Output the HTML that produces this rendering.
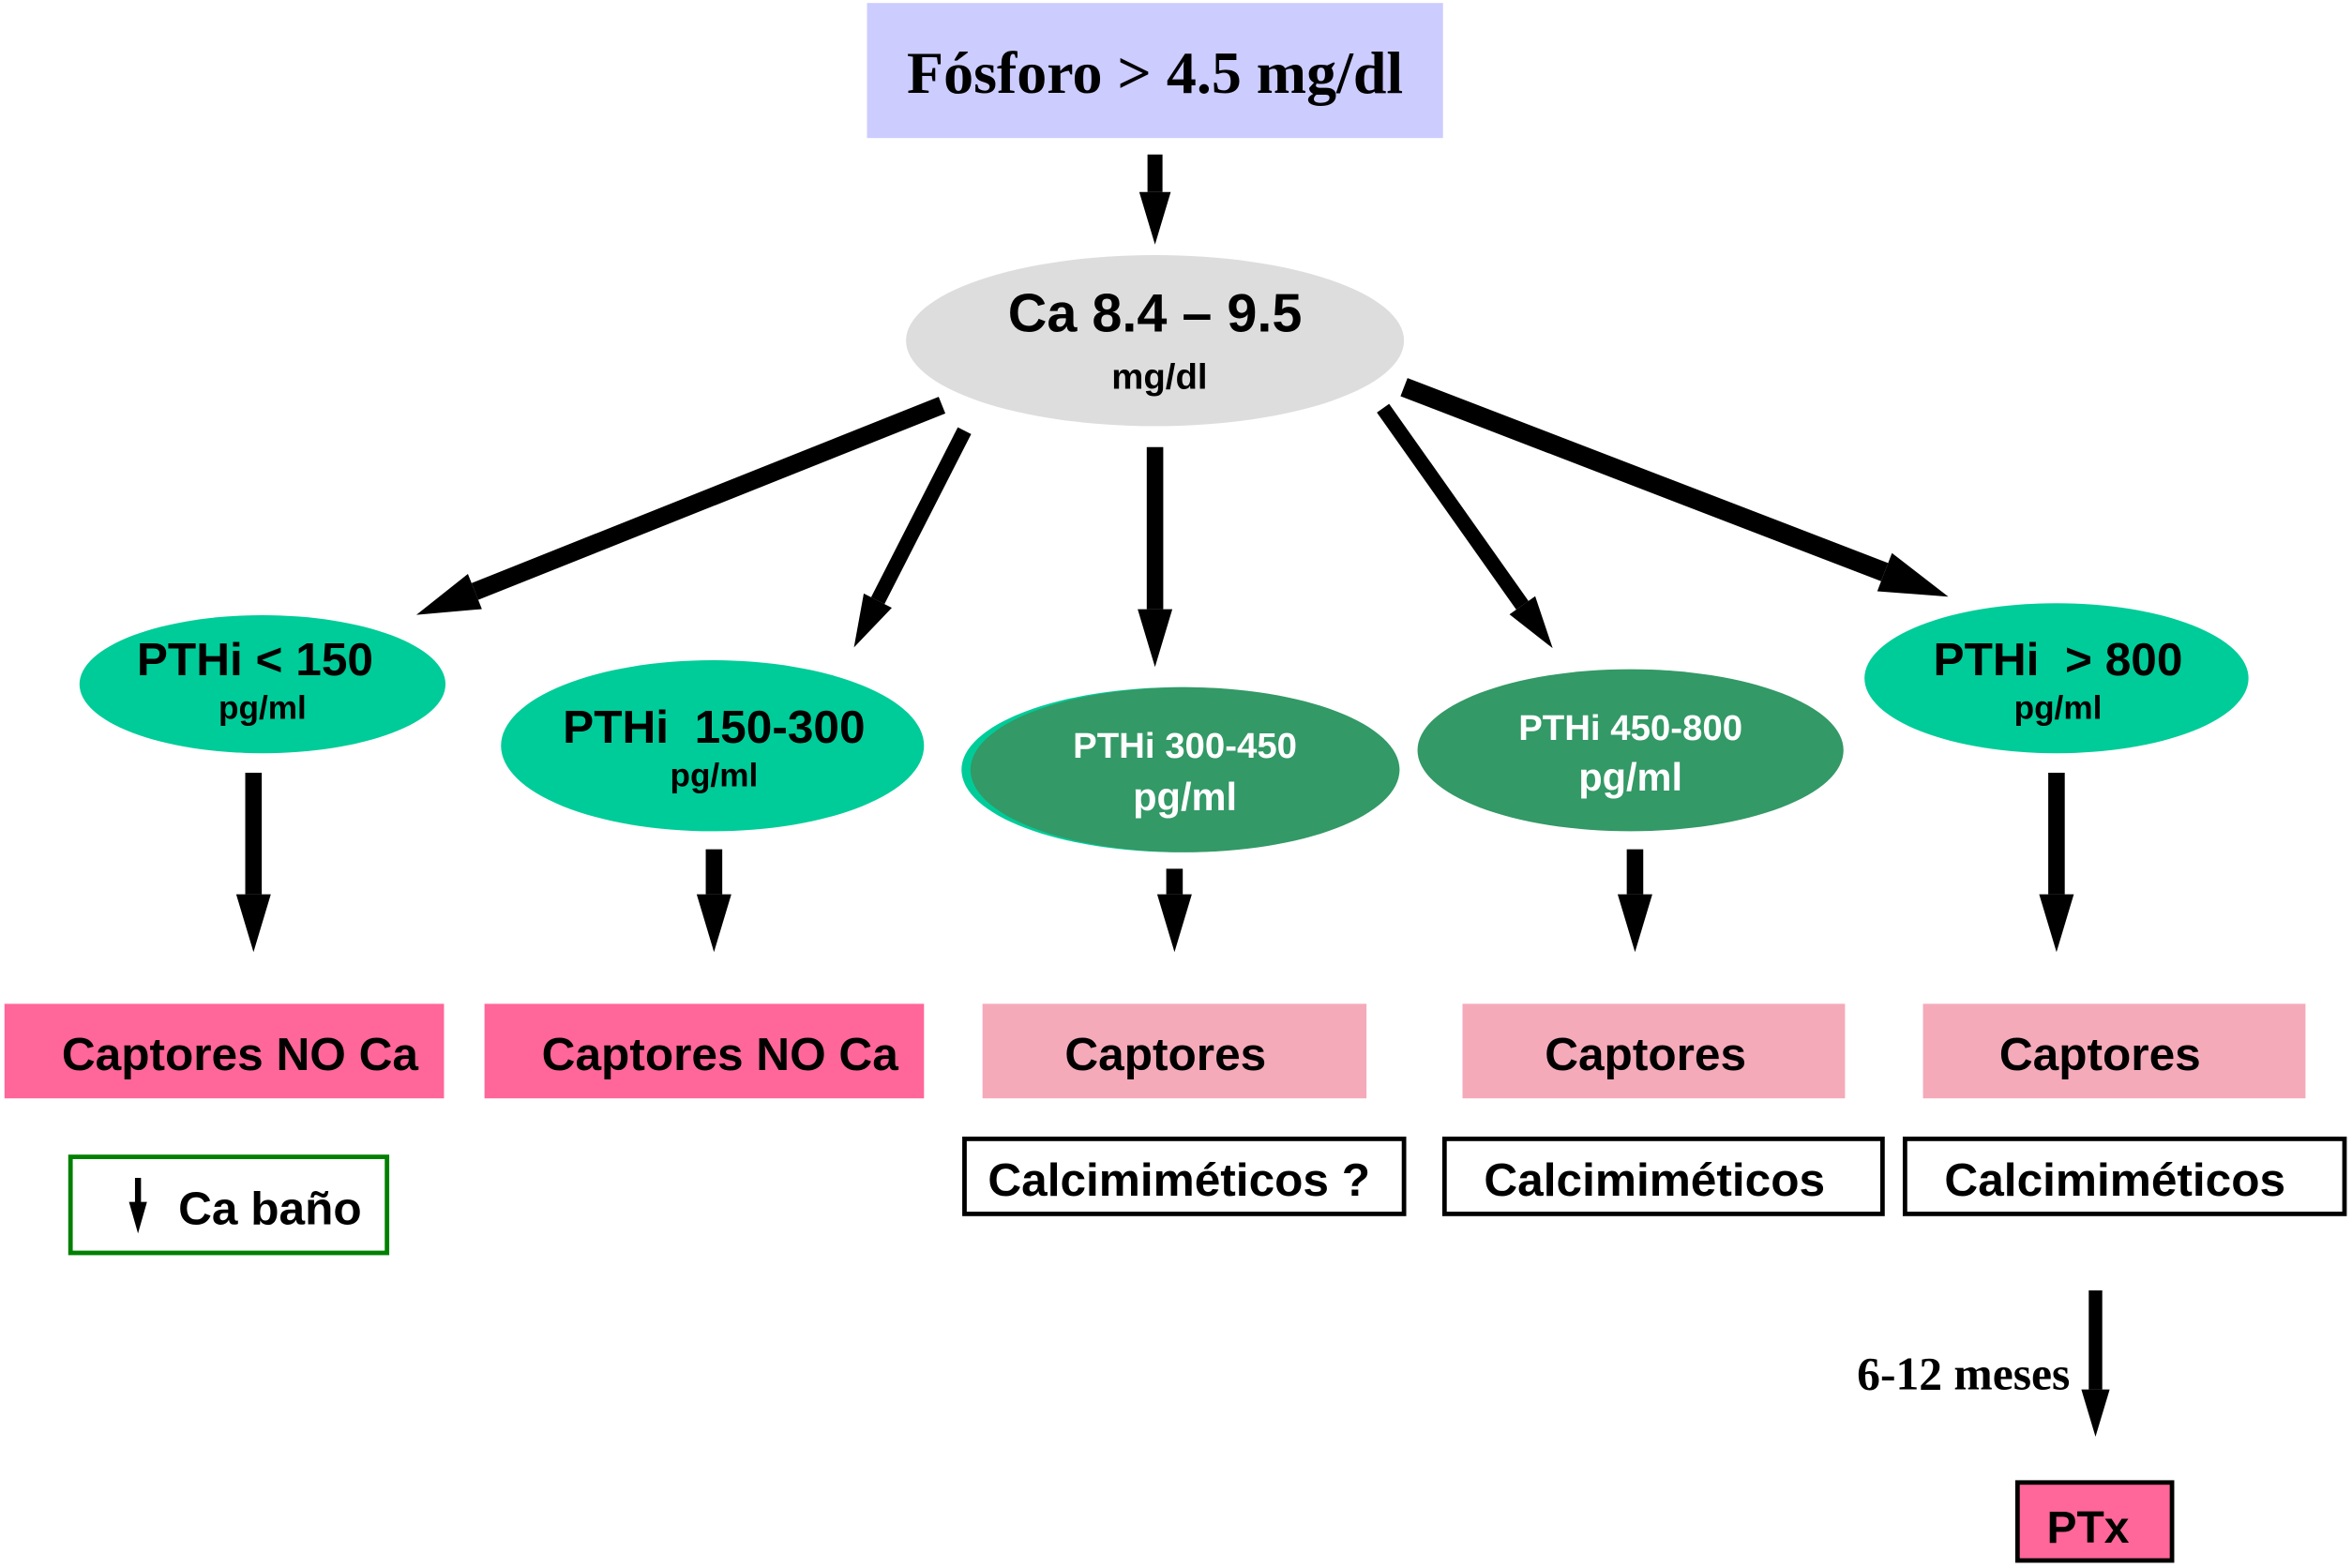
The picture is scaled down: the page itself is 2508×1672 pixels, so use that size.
<!DOCTYPE html>
<html><head><meta charset="utf-8"><style>html,body{margin:0;padding:0;background:#fff}svg{display:block}</style></head>
<body>
<svg width="2508" height="1672" viewBox="0 0 1568 1045" preserveAspectRatio="none" xmlns="http://www.w3.org/2000/svg">
<defs>
<marker id="ah" viewBox="0 0 10 6" refX="0" refY="3" markerWidth="4" markerHeight="2.1" orient="auto" markerUnits="strokeWidth">
<path d="M0,0 L10,3 L0,6 z" fill="#000"/></marker>
</defs>
<g font-family="Liberation Sans, sans-serif" font-weight="bold" text-anchor="middle">
<rect x="578" y="2" width="384" height="90" fill="#ccccff"/>
<text x="770" y="62" font-family="Liberation Serif, serif" font-size="40" fill="#000">Fósforo &gt; 4.5 mg/dl</text>

<g stroke="#000" fill="none" marker-end="url(#ah)">
<line x1="770" y1="103" x2="770" y2="128" stroke-width="10"/>
<line x1="628" y1="270" x2="316.6" y2="394.2" stroke-width="12"/>
<line x1="643" y1="287" x2="585.2" y2="400.3" stroke-width="10"/>
<line x1="770" y1="298" x2="770" y2="406" stroke-width="11"/>
<line x1="922" y1="272" x2="1014.9" y2="403.4" stroke-width="10"/>
<line x1="936" y1="258" x2="1256.4" y2="381.3" stroke-width="13"/>
<line x1="169" y1="515" x2="169" y2="596" stroke-width="11"/>
<line x1="476" y1="566" x2="476" y2="596" stroke-width="11"/>
<line x1="783" y1="579" x2="783" y2="596" stroke-width="11"/>
<line x1="1090" y1="566" x2="1090" y2="596" stroke-width="11"/>
<line x1="1371" y1="515" x2="1371" y2="596" stroke-width="11"/>
<line x1="1397" y1="860" x2="1397" y2="926" stroke-width="9"/>
</g>

<ellipse cx="770" cy="227" rx="166" ry="57" fill="#dddddd"/>
<text x="770" y="221" font-size="36">Ca 8.4 – 9.5</text>
<text x="773" y="259" font-size="24">mg/dl</text>

<ellipse cx="175" cy="456" rx="122" ry="46" fill="#00cc99"/>
<text x="170" y="450" font-size="31">PTHi &lt; 150</text>
<text x="175" y="479" font-size="22">pg/ml</text>

<ellipse cx="475" cy="497" rx="141" ry="57" fill="#00cc99"/>
<text x="476" y="495" font-size="31" xml:space="preserve">PTHi  150-300</text>
<text x="476" y="524" font-size="22">pg/ml</text>

<ellipse cx="787" cy="513" rx="146" ry="55" fill="#00cc99"/>
<ellipse cx="790" cy="513" rx="143" ry="55" fill="#339966"/>
<text x="790" y="505" font-size="24" fill="#fff">PTHi 300-450</text>
<text x="790" y="540" font-size="26" fill="#fff">pg/ml</text>

<ellipse cx="1087" cy="500" rx="142" ry="54" fill="#339966"/>
<text x="1087" y="493" font-size="24" fill="#fff">PTHi 450-800</text>
<text x="1087" y="527" font-size="26" fill="#fff">pg/ml</text>

<ellipse cx="1371" cy="452" rx="128" ry="50" fill="#00cc99"/>
<text x="1372" y="450" font-size="31" xml:space="preserve">PTHi  &gt; 800</text>
<text x="1372" y="479" font-size="22">pg/ml</text>

<rect x="3" y="669" width="293" height="63" fill="#ff6699"/>
<text x="160" y="713" font-size="31">Captores NO Ca</text>
<rect x="323" y="669" width="293" height="63" fill="#ff6699"/>
<text x="480" y="713" font-size="31">Captores NO Ca</text>
<rect x="655" y="669" width="256" height="63" fill="#f4aab9"/>
<text x="777" y="713" font-size="31">Captores</text>
<rect x="975" y="669" width="255" height="63" fill="#f4aab9"/>
<text x="1097" y="713" font-size="31">Captores</text>
<rect x="1282" y="669" width="255" height="63" fill="#f4aab9"/>
<text x="1400" y="713" font-size="31">Captores</text>

<g fill="#fff" stroke="#000" stroke-width="3">
<rect x="643" y="759" width="293" height="50"/>
<rect x="963" y="759" width="292" height="50"/>
<rect x="1270" y="759" width="293" height="50"/>
</g>
<text x="786" y="797" font-size="31">Calcimiméticos ?</text>
<text x="1103" y="797" font-size="31">Calcimiméticos</text>
<text x="1410" y="797" font-size="31">Calcimiméticos</text>

<rect x="47" y="771" width="211" height="64" fill="#fff" stroke="#008000" stroke-width="3"/>
<rect x="90" y="785" width="4" height="18" fill="#000"/>
<path d="M86,801 L92,822 L98,801 z" fill="#000"/>
<text x="180" y="816" font-size="31">Ca baño</text>

<text x="1380" y="926" font-family="Liberation Serif, serif" font-size="31" text-anchor="end">6-12 meses</text>

<rect x="1345" y="988" width="103" height="52" fill="#ff6699" stroke="#000" stroke-width="3"/>
<text x="1392" y="1028" font-size="30">PTx</text>
</g>
</svg>
</body></html>
